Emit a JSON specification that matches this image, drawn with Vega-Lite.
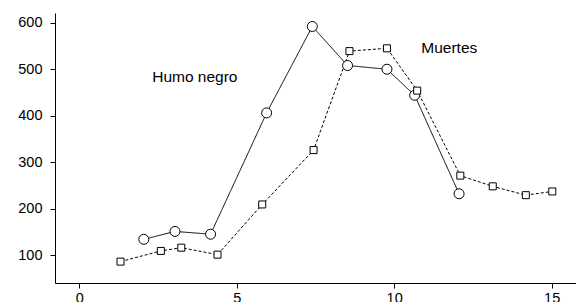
{
  "$schema": "https://vega.github.io/schema/vega-lite/v6.json",
  "width": 525,
  "height": 270,
  "autosize": {"type": "none"},
  "padding": {"left": 55, "top": 13, "right": 0, "bottom": 19},
  "background": "white",
  "config": {
    "view": {"stroke": null},
    "axis": {
      "grid": false,
      "domainColor": "black",
      "domainWidth": 1,
      "tickColor": "black",
      "tickSize": 5,
      "labelColor": "black",
      "labelFont": "Liberation Sans",
      "labelFontSize": 14.5,
      "title": null
    }
  },
  "datasets": {
    "series": [
      {"serie": "Humo negro", "x": 2.05, "y": 134},
      {"serie": "Humo negro", "x": 3.04, "y": 151},
      {"serie": "Humo negro", "x": 4.17, "y": 145},
      {"serie": "Humo negro", "x": 5.95, "y": 406},
      {"serie": "Humo negro", "x": 7.40, "y": 592},
      {"serie": "Humo negro", "x": 8.52, "y": 508},
      {"serie": "Humo negro", "x": 9.77, "y": 500},
      {"serie": "Humo negro", "x": 10.65, "y": 444},
      {"serie": "Humo negro", "x": 12.06, "y": 232},
      {"serie": "Muertes", "x": 1.31, "y": 86},
      {"serie": "Muertes", "x": 2.59, "y": 109},
      {"serie": "Muertes", "x": 3.24, "y": 116},
      {"serie": "Muertes", "x": 4.39, "y": 101},
      {"serie": "Muertes", "x": 5.81, "y": 209},
      {"serie": "Muertes", "x": 7.44, "y": 326},
      {"serie": "Muertes", "x": 8.58, "y": 539},
      {"serie": "Muertes", "x": 9.77, "y": 545},
      {"serie": "Muertes", "x": 10.73, "y": 454},
      {"serie": "Muertes", "x": 12.10, "y": 271},
      {"serie": "Muertes", "x": 13.13, "y": 248},
      {"serie": "Muertes", "x": 14.18, "y": 229},
      {"serie": "Muertes", "x": 15.02, "y": 237}
    ],
    "labels": [
      {"label": "Humo negro", "x": 3.67, "y": 484},
      {"label": "Muertes", "x": 11.75, "y": 546}
    ]
  },
  "layer": [
    {
      "data": {"name": "series"},
      "mark": {"type": "line", "color": "black", "strokeWidth": 1},
      "encoding": {
        "x": {"field": "x", "type": "quantitative", "scale": {"domain": [-0.77, 15.9], "nice": false, "zero": false}, "axis": {"values": [0, 5, 10, 15], "labelPadding": 3}},
        "y": {"field": "y", "type": "quantitative", "scale": {"domain": [40, 621], "nice": false, "zero": false}, "axis": {"values": [100, 200, 300, 400, 500, 600], "labelPadding": 8}},
        "detail": {"field": "serie"},
        "strokeDash": {"field": "serie", "type": "nominal", "scale": {"domain": ["Humo negro", "Muertes"], "range": [[1, 0], [3, 2]]}, "legend": null}
      }
    },
    {
      "data": {"name": "series"},
      "transform": [{"filter": "datum.serie === 'Humo negro'"}],
      "mark": {"type": "point", "shape": "circle", "filled": true, "fill": "white", "stroke": "black", "strokeWidth": 1, "opacity": 1, "size": 100},
      "encoding": {
        "x": {"field": "x", "type": "quantitative"},
        "y": {"field": "y", "type": "quantitative"}
      }
    },
    {
      "data": {"name": "series"},
      "transform": [{"filter": "datum.serie === 'Muertes'"}],
      "mark": {"type": "point", "shape": "square", "filled": true, "fill": "white", "stroke": "black", "strokeWidth": 1, "opacity": 1, "size": 49},
      "encoding": {
        "x": {"field": "x", "type": "quantitative"},
        "y": {"field": "y", "type": "quantitative"}
      }
    },
    {
      "data": {"name": "labels"},
      "mark": {"type": "text", "font": "Liberation Sans", "fontSize": 15.5, "color": "black", "align": "center", "baseline": "middle"},
      "encoding": {
        "x": {"field": "x", "type": "quantitative"},
        "y": {"field": "y", "type": "quantitative"},
        "text": {"field": "label"}
      }
    }
  ]
}
